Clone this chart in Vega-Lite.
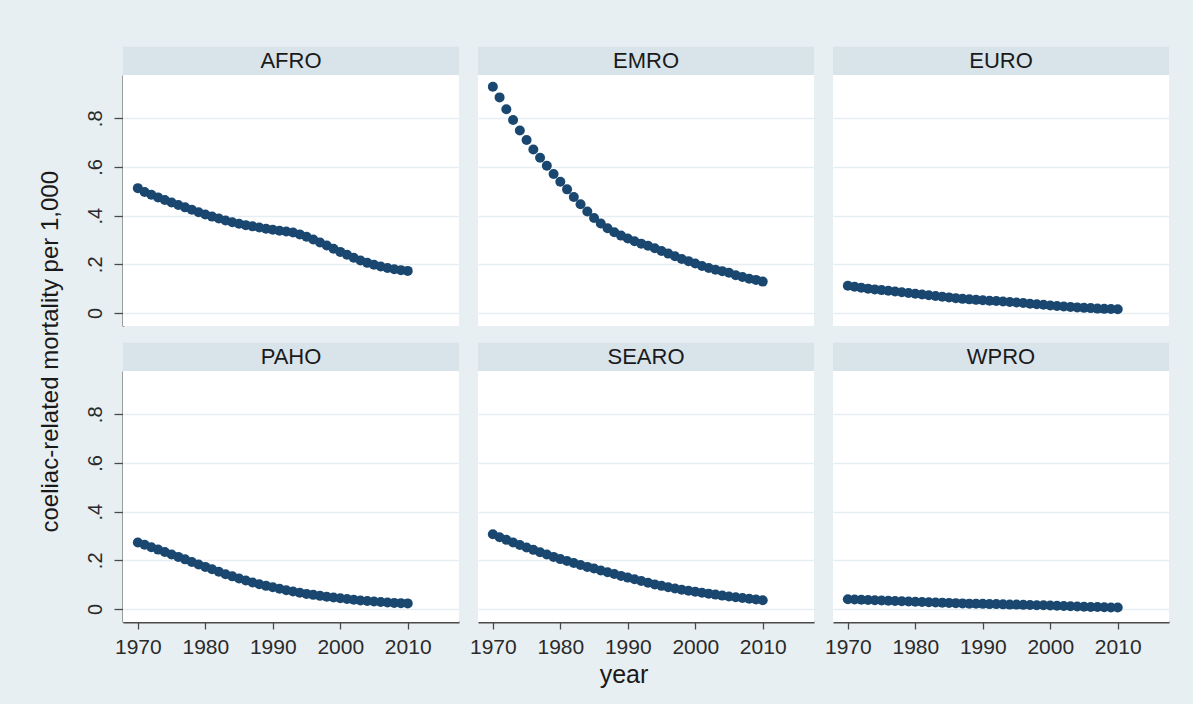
{
  "$schema": "https://vega.github.io/schema/vega-lite/v6.json",
  "background": "#e8eff2",
  "padding": {"left": 38, "top": 46, "right": 24, "bottom": 19},
  "config": {
    "view": {"fill": "white", "stroke": null},
    "font": "Liberation Sans",
    "axis": {
      "grid": true,
      "gridColor": "#e6eef2",
      "gridWidth": 1.5,
      "domainColor": "#4a4a4a",
      "domainWidth": 2,
      "tickColor": "#4a4a4a",
      "tickWidth": 1.3,
      "labelFont": "Liberation Sans",
      "labelFontSize": 20,
      "labelColor": "#2a2a2a",
      "title": null
    }
  },
  "title": {"text": "year", "orient": "bottom", "anchor": "middle", "fontSize": 25, "font": "Liberation Sans", "fontWeight": "normal", "color": "#1a1a1a", "offset": 6, "dx": 20},
  "vconcat": [
    {
      "title": {"text": "coeliac-related mortality per 1,000", "orient": "left", "anchor": "middle", "fontSize": 24, "font": "Liberation Sans", "fontWeight": "normal", "color": "#1a1a1a", "offset": 22},
      "data": {"values": [
        {"region":"AFRO","year":1970,"mortality":0.513},{"region":"AFRO","year":1971,"mortality":0.497},{"region":"AFRO","year":1972,"mortality":0.486},{"region":"AFRO","year":1973,"mortality":0.475},{"region":"AFRO","year":1974,"mortality":0.464},{"region":"AFRO","year":1975,"mortality":0.454},{"region":"AFRO","year":1976,"mortality":0.444},{"region":"AFRO","year":1977,"mortality":0.434},{"region":"AFRO","year":1978,"mortality":0.424},{"region":"AFRO","year":1979,"mortality":0.414},
        {"region":"AFRO","year":1980,"mortality":0.405},{"region":"AFRO","year":1981,"mortality":0.396},{"region":"AFRO","year":1982,"mortality":0.388},{"region":"AFRO","year":1983,"mortality":0.380},{"region":"AFRO","year":1984,"mortality":0.373},{"region":"AFRO","year":1985,"mortality":0.367},{"region":"AFRO","year":1986,"mortality":0.361},{"region":"AFRO","year":1987,"mortality":0.356},{"region":"AFRO","year":1988,"mortality":0.351},{"region":"AFRO","year":1989,"mortality":0.346},
        {"region":"AFRO","year":1990,"mortality":0.342},{"region":"AFRO","year":1991,"mortality":0.338},{"region":"AFRO","year":1992,"mortality":0.335},{"region":"AFRO","year":1993,"mortality":0.331},{"region":"AFRO","year":1994,"mortality":0.323},{"region":"AFRO","year":1995,"mortality":0.313},{"region":"AFRO","year":1996,"mortality":0.302},{"region":"AFRO","year":1997,"mortality":0.290},{"region":"AFRO","year":1998,"mortality":0.277},{"region":"AFRO","year":1999,"mortality":0.264},
        {"region":"AFRO","year":2000,"mortality":0.251},{"region":"AFRO","year":2001,"mortality":0.239},{"region":"AFRO","year":2002,"mortality":0.227},{"region":"AFRO","year":2003,"mortality":0.216},{"region":"AFRO","year":2004,"mortality":0.206},{"region":"AFRO","year":2005,"mortality":0.198},{"region":"AFRO","year":2006,"mortality":0.191},{"region":"AFRO","year":2007,"mortality":0.185},{"region":"AFRO","year":2008,"mortality":0.180},{"region":"AFRO","year":2009,"mortality":0.176},{"region":"AFRO","year":2010,"mortality":0.173},
        {"region":"EMRO","year":1970,"mortality":0.930},{"region":"EMRO","year":1971,"mortality":0.886},{"region":"EMRO","year":1972,"mortality":0.837},{"region":"EMRO","year":1973,"mortality":0.793},{"region":"EMRO","year":1974,"mortality":0.750},{"region":"EMRO","year":1975,"mortality":0.711},{"region":"EMRO","year":1976,"mortality":0.672},{"region":"EMRO","year":1977,"mortality":0.638},{"region":"EMRO","year":1978,"mortality":0.605},{"region":"EMRO","year":1979,"mortality":0.571},
        {"region":"EMRO","year":1980,"mortality":0.539},{"region":"EMRO","year":1981,"mortality":0.508},{"region":"EMRO","year":1982,"mortality":0.477},{"region":"EMRO","year":1983,"mortality":0.447},{"region":"EMRO","year":1984,"mortality":0.417},{"region":"EMRO","year":1985,"mortality":0.390},{"region":"EMRO","year":1986,"mortality":0.368},{"region":"EMRO","year":1987,"mortality":0.348},{"region":"EMRO","year":1988,"mortality":0.332},{"region":"EMRO","year":1989,"mortality":0.318},
        {"region":"EMRO","year":1990,"mortality":0.306},{"region":"EMRO","year":1991,"mortality":0.295},{"region":"EMRO","year":1992,"mortality":0.285},{"region":"EMRO","year":1993,"mortality":0.276},{"region":"EMRO","year":1994,"mortality":0.266},{"region":"EMRO","year":1995,"mortality":0.255},{"region":"EMRO","year":1996,"mortality":0.244},{"region":"EMRO","year":1997,"mortality":0.233},{"region":"EMRO","year":1998,"mortality":0.222},{"region":"EMRO","year":1999,"mortality":0.213},
        {"region":"EMRO","year":2000,"mortality":0.203},{"region":"EMRO","year":2001,"mortality":0.193},{"region":"EMRO","year":2002,"mortality":0.185},{"region":"EMRO","year":2003,"mortality":0.178},{"region":"EMRO","year":2004,"mortality":0.172},{"region":"EMRO","year":2005,"mortality":0.165},{"region":"EMRO","year":2006,"mortality":0.155},{"region":"EMRO","year":2007,"mortality":0.148},{"region":"EMRO","year":2008,"mortality":0.141},{"region":"EMRO","year":2009,"mortality":0.136},{"region":"EMRO","year":2010,"mortality":0.129},
        {"region":"EURO","year":1970,"mortality":0.112},{"region":"EURO","year":1971,"mortality":0.108},{"region":"EURO","year":1972,"mortality":0.104},{"region":"EURO","year":1973,"mortality":0.100},{"region":"EURO","year":1974,"mortality":0.097},{"region":"EURO","year":1975,"mortality":0.094},{"region":"EURO","year":1976,"mortality":0.091},{"region":"EURO","year":1977,"mortality":0.088},{"region":"EURO","year":1978,"mortality":0.085},{"region":"EURO","year":1979,"mortality":0.082},
        {"region":"EURO","year":1980,"mortality":0.079},{"region":"EURO","year":1981,"mortality":0.076},{"region":"EURO","year":1982,"mortality":0.073},{"region":"EURO","year":1983,"mortality":0.070},{"region":"EURO","year":1984,"mortality":0.067},{"region":"EURO","year":1985,"mortality":0.064},{"region":"EURO","year":1986,"mortality":0.061},{"region":"EURO","year":1987,"mortality":0.058},{"region":"EURO","year":1988,"mortality":0.056},{"region":"EURO","year":1989,"mortality":0.054},
        {"region":"EURO","year":1990,"mortality":0.052},{"region":"EURO","year":1991,"mortality":0.050},{"region":"EURO","year":1992,"mortality":0.049},{"region":"EURO","year":1993,"mortality":0.047},{"region":"EURO","year":1994,"mortality":0.045},{"region":"EURO","year":1995,"mortality":0.043},{"region":"EURO","year":1996,"mortality":0.041},{"region":"EURO","year":1997,"mortality":0.038},{"region":"EURO","year":1998,"mortality":0.036},{"region":"EURO","year":1999,"mortality":0.034},
        {"region":"EURO","year":2000,"mortality":0.031},{"region":"EURO","year":2001,"mortality":0.029},{"region":"EURO","year":2002,"mortality":0.027},{"region":"EURO","year":2003,"mortality":0.025},{"region":"EURO","year":2004,"mortality":0.023},{"region":"EURO","year":2005,"mortality":0.021},{"region":"EURO","year":2006,"mortality":0.020},{"region":"EURO","year":2007,"mortality":0.018},{"region":"EURO","year":2008,"mortality":0.017},{"region":"EURO","year":2009,"mortality":0.016},{"region":"EURO","year":2010,"mortality":0.015},
        {"region":"PAHO","year":1970,"mortality":0.273},{"region":"PAHO","year":1971,"mortality":0.264},{"region":"PAHO","year":1972,"mortality":0.254},{"region":"PAHO","year":1973,"mortality":0.244},{"region":"PAHO","year":1974,"mortality":0.234},{"region":"PAHO","year":1975,"mortality":0.224},{"region":"PAHO","year":1976,"mortality":0.214},{"region":"PAHO","year":1977,"mortality":0.204},{"region":"PAHO","year":1978,"mortality":0.193},{"region":"PAHO","year":1979,"mortality":0.183},
        {"region":"PAHO","year":1980,"mortality":0.173},{"region":"PAHO","year":1981,"mortality":0.163},{"region":"PAHO","year":1982,"mortality":0.153},{"region":"PAHO","year":1983,"mortality":0.143},{"region":"PAHO","year":1984,"mortality":0.134},{"region":"PAHO","year":1985,"mortality":0.125},{"region":"PAHO","year":1986,"mortality":0.117},{"region":"PAHO","year":1987,"mortality":0.109},{"region":"PAHO","year":1988,"mortality":0.102},{"region":"PAHO","year":1989,"mortality":0.095},
        {"region":"PAHO","year":1990,"mortality":0.089},{"region":"PAHO","year":1991,"mortality":0.083},{"region":"PAHO","year":1992,"mortality":0.077},{"region":"PAHO","year":1993,"mortality":0.072},{"region":"PAHO","year":1994,"mortality":0.067},{"region":"PAHO","year":1995,"mortality":0.062},{"region":"PAHO","year":1996,"mortality":0.058},{"region":"PAHO","year":1997,"mortality":0.054},{"region":"PAHO","year":1998,"mortality":0.050},{"region":"PAHO","year":1999,"mortality":0.047},
        {"region":"PAHO","year":2000,"mortality":0.044},{"region":"PAHO","year":2001,"mortality":0.041},{"region":"PAHO","year":2002,"mortality":0.038},{"region":"PAHO","year":2003,"mortality":0.035},{"region":"PAHO","year":2004,"mortality":0.033},{"region":"PAHO","year":2005,"mortality":0.031},{"region":"PAHO","year":2006,"mortality":0.029},{"region":"PAHO","year":2007,"mortality":0.027},{"region":"PAHO","year":2008,"mortality":0.025},{"region":"PAHO","year":2009,"mortality":0.024},{"region":"PAHO","year":2010,"mortality":0.023},
        {"region":"SEARO","year":1970,"mortality":0.307},{"region":"SEARO","year":1971,"mortality":0.295},{"region":"SEARO","year":1972,"mortality":0.284},{"region":"SEARO","year":1973,"mortality":0.273},{"region":"SEARO","year":1974,"mortality":0.263},{"region":"SEARO","year":1975,"mortality":0.253},{"region":"SEARO","year":1976,"mortality":0.243},{"region":"SEARO","year":1977,"mortality":0.233},{"region":"SEARO","year":1978,"mortality":0.224},{"region":"SEARO","year":1979,"mortality":0.214},
        {"region":"SEARO","year":1980,"mortality":0.205},{"region":"SEARO","year":1981,"mortality":0.197},{"region":"SEARO","year":1982,"mortality":0.189},{"region":"SEARO","year":1983,"mortality":0.181},{"region":"SEARO","year":1984,"mortality":0.173},{"region":"SEARO","year":1985,"mortality":0.166},{"region":"SEARO","year":1986,"mortality":0.158},{"region":"SEARO","year":1987,"mortality":0.151},{"region":"SEARO","year":1988,"mortality":0.144},{"region":"SEARO","year":1989,"mortality":0.136},
        {"region":"SEARO","year":1990,"mortality":0.129},{"region":"SEARO","year":1991,"mortality":0.122},{"region":"SEARO","year":1992,"mortality":0.115},{"region":"SEARO","year":1993,"mortality":0.108},{"region":"SEARO","year":1994,"mortality":0.101},{"region":"SEARO","year":1995,"mortality":0.095},{"region":"SEARO","year":1996,"mortality":0.089},{"region":"SEARO","year":1997,"mortality":0.084},{"region":"SEARO","year":1998,"mortality":0.079},{"region":"SEARO","year":1999,"mortality":0.075},
        {"region":"SEARO","year":2000,"mortality":0.071},{"region":"SEARO","year":2001,"mortality":0.067},{"region":"SEARO","year":2002,"mortality":0.063},{"region":"SEARO","year":2003,"mortality":0.059},{"region":"SEARO","year":2004,"mortality":0.055},{"region":"SEARO","year":2005,"mortality":0.051},{"region":"SEARO","year":2006,"mortality":0.048},{"region":"SEARO","year":2007,"mortality":0.045},{"region":"SEARO","year":2008,"mortality":0.042},{"region":"SEARO","year":2009,"mortality":0.039},{"region":"SEARO","year":2010,"mortality":0.036},
        {"region":"WPRO","year":1970,"mortality":0.040},{"region":"WPRO","year":1971,"mortality":0.039},{"region":"WPRO","year":1972,"mortality":0.038},{"region":"WPRO","year":1973,"mortality":0.037},{"region":"WPRO","year":1974,"mortality":0.036},{"region":"WPRO","year":1975,"mortality":0.035},{"region":"WPRO","year":1976,"mortality":0.034},{"region":"WPRO","year":1977,"mortality":0.033},{"region":"WPRO","year":1978,"mortality":0.032},{"region":"WPRO","year":1979,"mortality":0.031},
        {"region":"WPRO","year":1980,"mortality":0.030},{"region":"WPRO","year":1981,"mortality":0.029},{"region":"WPRO","year":1982,"mortality":0.028},{"region":"WPRO","year":1983,"mortality":0.027},{"region":"WPRO","year":1984,"mortality":0.026},{"region":"WPRO","year":1985,"mortality":0.025},{"region":"WPRO","year":1986,"mortality":0.024},{"region":"WPRO","year":1987,"mortality":0.023},{"region":"WPRO","year":1988,"mortality":0.022},{"region":"WPRO","year":1989,"mortality":0.022},
        {"region":"WPRO","year":1990,"mortality":0.021},{"region":"WPRO","year":1991,"mortality":0.020},{"region":"WPRO","year":1992,"mortality":0.020},{"region":"WPRO","year":1993,"mortality":0.019},{"region":"WPRO","year":1994,"mortality":0.018},{"region":"WPRO","year":1995,"mortality":0.018},{"region":"WPRO","year":1996,"mortality":0.017},{"region":"WPRO","year":1997,"mortality":0.016},{"region":"WPRO","year":1998,"mortality":0.015},{"region":"WPRO","year":1999,"mortality":0.015},
        {"region":"WPRO","year":2000,"mortality":0.014},{"region":"WPRO","year":2001,"mortality":0.013},{"region":"WPRO","year":2002,"mortality":0.012},{"region":"WPRO","year":2003,"mortality":0.011},{"region":"WPRO","year":2004,"mortality":0.010},{"region":"WPRO","year":2005,"mortality":0.009},{"region":"WPRO","year":2006,"mortality":0.008},{"region":"WPRO","year":2007,"mortality":0.008},{"region":"WPRO","year":2008,"mortality":0.007},{"region":"WPRO","year":2009,"mortality":0.006},{"region":"WPRO","year":2010,"mortality":0.006}
      ]},
      "facet": {"field": "region", "type": "nominal", "header": {"title": null, "labelExpr": "''", "labelFontSize": 0.1, "labelColor": "transparent", "labelPadding": 0}},
      "columns": 3,
      "spacing": {"row": 16, "column": 19},
      "spec": {
        "width": 336,
        "height": 279,
        "layer": [
          {
            "mark": {"type": "circle", "color": "#1a476f", "opacity": 1, "size": 100},
            "encoding": {
              "x": {"field": "year", "type": "quantitative",
                    "scale": {"domain": [1967.8, 2017.6], "nice": false, "zero": false},
                    "axis": {"values": [1970, 1980, 1990, 2000, 2010], "format": "d", "grid": false, "tickSize": 7, "labelPadding": 7, "labelFontSize": 21, "labelFlush": false, "labelOverlap": false}},
              "y": {"field": "mortality", "type": "quantitative",
                    "scale": {"domain": [-0.0535, 0.978], "range": [279, 28], "nice": false, "zero": false},
                    "axis": {"values": [0, 0.2, 0.4, 0.6, 0.8], "tickSize": 9, "labelAngle": -90, "labelAlign": "center", "labelBaseline": "bottom", "labelPadding": 9,
                             "labelExpr": "datum.value == 0 ? '0' : replace(format(datum.value, '.1f'), '0.', '.')"}}
            }
          },
          {
            "transform": [{"filter": "datum.year == 1970"}],
            "mark": {"type": "rect", "color": "#d8e3ea"},
            "encoding": {
              "x": {"datum": 1967.8}, "x2": {"datum": 2017.6},
              "y": {"datum": 0.978}, "y2": {"datum": 1.0945}
            }
          },
          {
            "transform": [{"filter": "datum.year == 1970"}],
            "mark": {"type": "text", "font": "Liberation Sans", "fontSize": 22, "color": "#1a1a1a", "baseline": "middle", "align": "center"},
            "encoding": {
              "x": {"datum": 1992.7},
              "y": {"datum": 1.036},
              "text": {"field": "region"}
            }
          }
        ]
      }
    }
  ]
}
